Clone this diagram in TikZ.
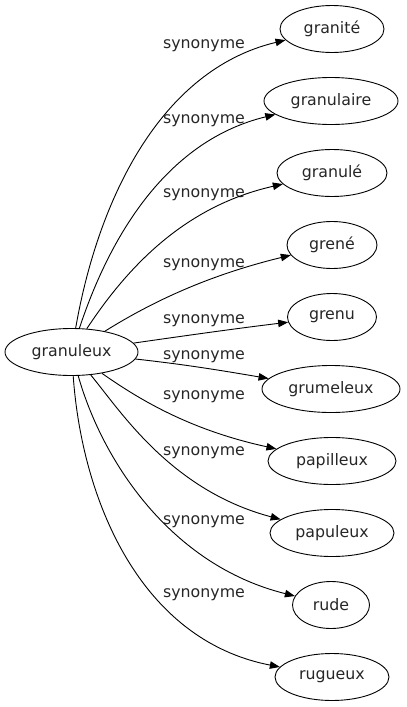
\documentclass[tikz,border=0pt]{standalone}
\usepackage{fontspec}
\setmainfont{DejaVu Sans}
\usetikzlibrary{shapes.geometric,arrows.meta}
\begin{document}
\begin{tikzpicture}[x=1pt,y=-1pt,
  word/.style={draw, ellipse, minimum height=47pt, inner sep=0pt, font=\fontsize{15.8}{18}\selectfont, line width=0.9pt, text=black!85},
  lab/.style={font=\fontsize{15.8}{18}\selectfont, inner sep=0pt, text=black!85},
  syn/.style={draw, line width=0.9pt, -{Triangle[length=10pt,width=7.5pt]}}]
\useasboundingbox (0,0) rectangle (407,707);
\node[word, minimum width=133pt] (s) at (71.5,352) {granuleux};
\node[word, minimum width=104pt] (t1) at (332,29) {granité};
\node[word, minimum width=134pt] (t2) at (331,101) {granulaire};
\node[word, minimum width=110pt] (t3) at (332,173) {granulé};
\node[word, minimum width=90pt] (t4) at (332,245) {grené};
\node[word, minimum width=89pt] (t5) at (332,317) {grenu};
\node[word, minimum width=138pt] (t6) at (331,389) {grumeleux};
\node[word, minimum width=128pt] (t7) at (332,461) {papilleux};
\node[word, minimum width=124pt] (t8) at (332,533) {papuleux};
\node[word, minimum width=77pt] (t9) at (331,605) {rude};
\node[word, minimum width=114pt] (t10) at (332,677) {rugueux};
\node[lab] (l1) at (204,46) {synonyme};
\node[lab] (l2) at (204,121) {synonyme};
\node[lab] (l3) at (204,195) {synonyme};
\node[lab] (l4) at (204,265) {synonyme};
\node[lab] (l5) at (204,321) {synonyme};
\node[lab] (l6) at (204,357) {synonyme};
\node[lab] (l7) at (204,397) {synonyme};
\node[lab] (l8) at (204,453) {synonyme};
\node[lab] (l9) at (204,522) {synonyme};
\node[lab] (l10) at (204,595) {synonyme};
\path[syn] (s) .. controls (98,200) and (160,70) .. (t1);
\path[syn] (s) .. controls (112,230) and (170,140) .. (t2);
\path[syn] (s) .. controls (132,260) and (190,205) .. (t3);
\path[syn] (s) .. controls (155,300) and (210,275) .. (t4);
\path[syn] (s) .. controls (190,335) and (240,328) .. (t5);
\path[syn] (s) .. controls (190,365) and (230,372) .. (t6);
\path[syn] (s) .. controls (140,400) and (190,430) .. (t7);
\path[syn] (s) .. controls (120,410) and (170,490) .. (t8);
\path[syn] (s) .. controls (102,460) and (170,565) .. (t9);
\path[syn] (s) .. controls (82,500) and (140,640) .. (t10);
\end{tikzpicture}
\end{document}
